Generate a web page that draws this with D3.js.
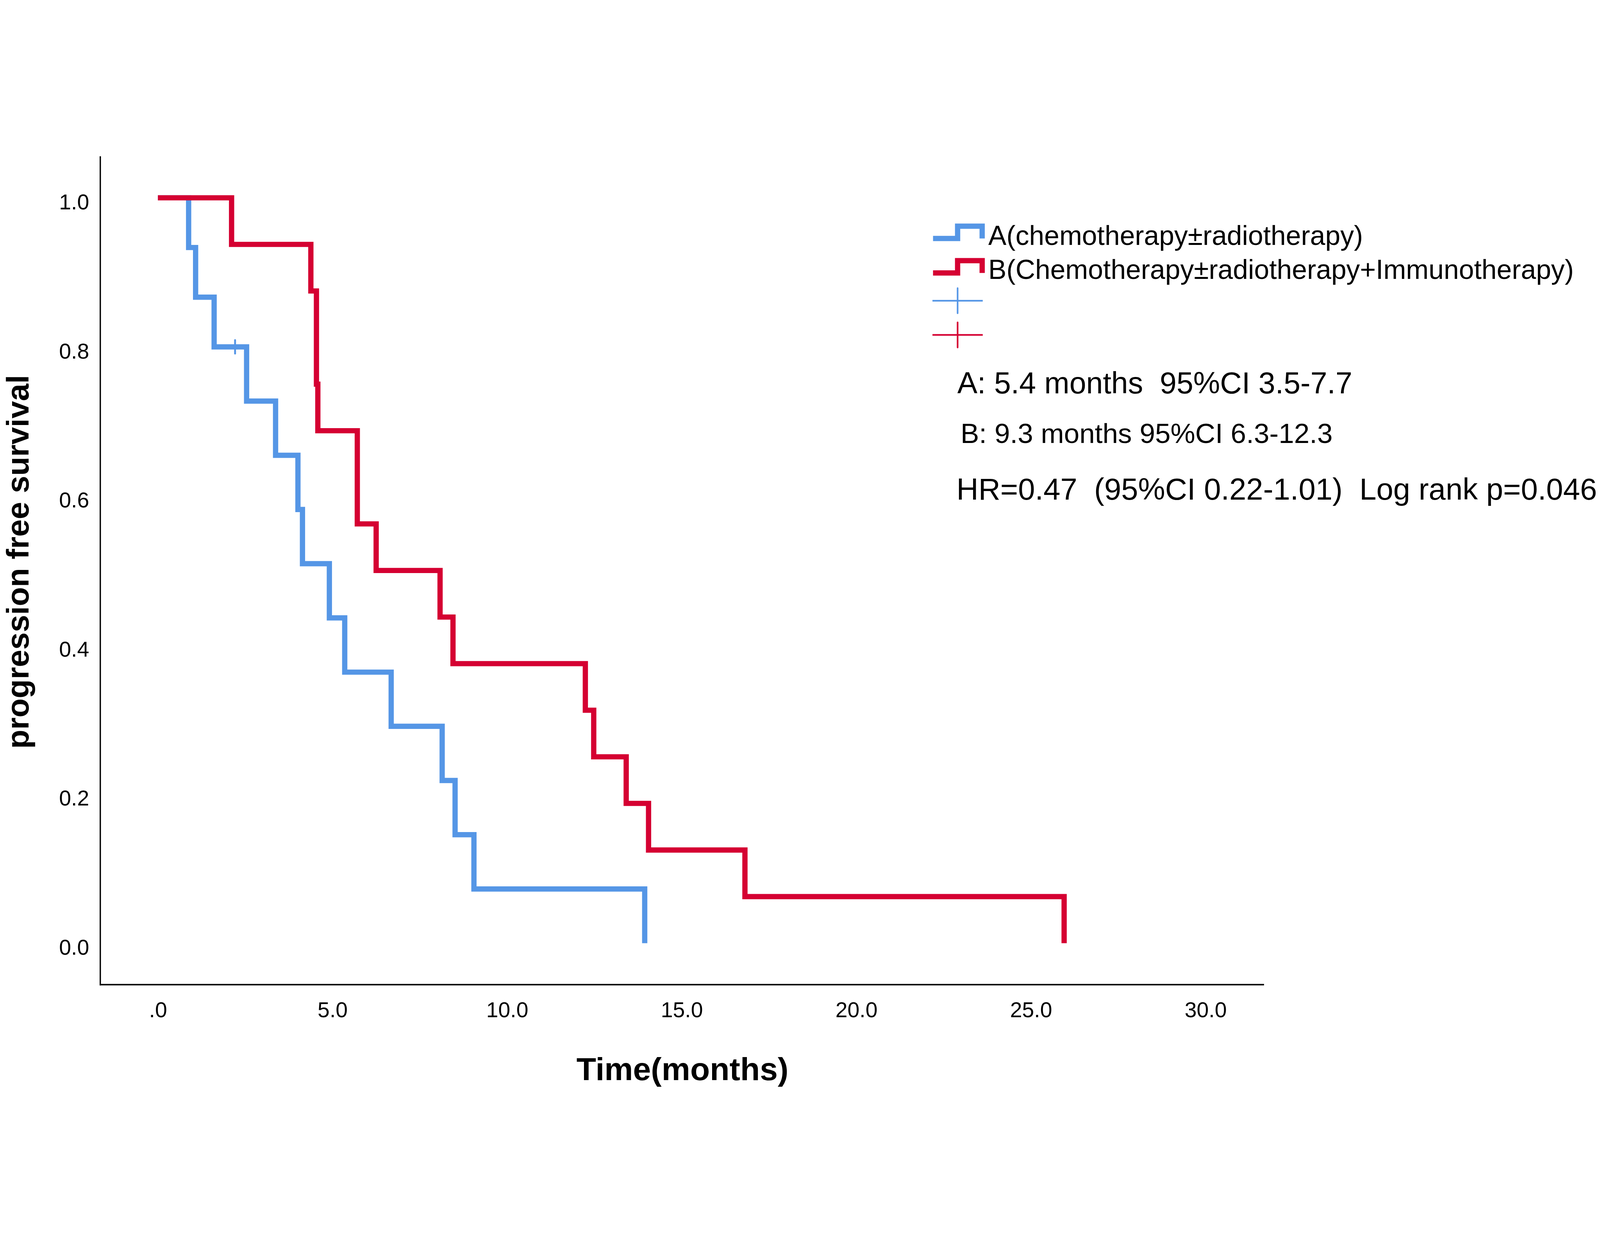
<!DOCTYPE html>
<html>
<head>
<meta charset="utf-8">
<script src="https://cdn.jsdelivr.net/npm/d3@7"></script>
<style>
  html, body { margin: 0; padding: 0; background: #fff; overflow: hidden; }
  svg { display: block; width: 100vw; height: 100vh; }
  text { font-family: "Liberation Sans", Arial, sans-serif; fill: #000; }
</style>
</head>
<body>
<svg id="chart" viewBox="0 0 5472 3182" preserveAspectRatio="xMidYMid meet"></svg>
<script>
// ---------------- data ----------------
const groupNames = ["A(chemotherapy\u00b1radiotherapy)", "B(Chemotherapy\u00b1radiotherapy+Immunotherapy)"];
const groupColors = ["#5596e6", "#d50032"];

// Group A: Kaplan-Meier step points (time in months, survival)
const timesA = [0, 0.88, 1.08, 1.61, 2.54, 3.37, 4.01, 4.14, 4.91, 5.35, 6.68, 8.14, 8.51, 9.05, 13.94];
const survA  = [1, 0.9333, 0.8667, 0.8, 0.7273, 0.6545, 0.5818, 0.5091, 0.4364, 0.3636, 0.2909, 0.2182, 0.1455, 0.0727, 0];
const censorTimesA = [2.21];
const censorSurvA  = [0.8];

// Group B
const timesB = [0, 2.11, 4.38, 4.54, 4.58, 5.71, 6.25, 8.08, 8.45, 12.24, 12.48, 13.41, 14.05, 16.81, 25.95];
const survB  = [1, 0.9375, 0.875, 0.75, 0.6875, 0.5625, 0.5, 0.4375, 0.375, 0.3125, 0.25, 0.1875, 0.125, 0.0625, 0];
const censorTimesB = [];
const censorSurvB  = [];

const xTicks = [0, 5, 10, 15, 20, 25, 30];
const xTickLabels = [".0", "5.0", "10.0", "15.0", "20.0", "25.0", "30.0"];
const yTicks = [0, 0.2, 0.4, 0.6, 0.8, 1.0];
const yTickLabels = ["0.0", "0.2", "0.4", "0.6", "0.8", "1.0"];

const xTitle = "Time(months)";
const yTitle = "progression free survival";
const statLines = [
  "A: 5.4 months  95%CI 3.5-7.7",
  "B: 9.3 months 95%CI 6.3-12.3",
  "HR=0.47  (95%CI 0.22-1.01)  Log rank p=0.046"
];

// ---------------- layout ----------------
const svg = d3.select("#chart");
const x = d3.scaleLinear().domain([0, 30]).range([540, 4123]);
const y = d3.scaleLinear().domain([0, 1]).range([2691, 142]);
const axisX = 343, axisY = 2833, axisRight = 4323;

// axis lines
svg.append("line").attr("x1", axisX).attr("x2", axisX).attr("y1", 0).attr("y2", axisY + 2.5)
  .attr("stroke", "#000").attr("stroke-width", 4.5);
svg.append("line").attr("x1", axisX - 2.25).attr("x2", axisRight).attr("y1", axisY).attr("y2", axisY)
  .attr("stroke", "#000").attr("stroke-width", 5);

// x axis labels
const gx = svg.append("g").attr("transform", `translate(0,${axisY})`)
  .call(d3.axisBottom(x).tickValues(xTicks).tickSize(0)
    .tickFormat((d, i) => xTickLabels[i]));
gx.select(".domain").remove();
gx.selectAll("text").attr("y", 111).attr("dy", null)
  .style("font-size", "74px").style("font-family", '"Liberation Sans", Arial, sans-serif').attr("fill", "#000");

// y axis labels
const gy = svg.append("g").attr("transform", `translate(${axisX},0)`)
  .call(d3.axisLeft(y).tickValues(yTicks).tickSize(0).tickPadding(38)
    .tickFormat((d, i) => yTickLabels[i]));
gy.select(".domain").remove();
gy.selectAll("text").attr("y", 39).attr("dy", null)
  .style("font-size", "74px").style("font-family", '"Liberation Sans", Arial, sans-serif').attr("fill", "#000");

// titles
svg.append("text").attr("x", 2334).attr("y", 3159).attr("text-anchor", "middle")
  .style("font-size", "110px").style("font-weight", "bold").text(xTitle);
svg.append("text").attr("transform", "translate(97,1387) rotate(-90)").attr("text-anchor", "middle")
  .style("font-size", "107px").style("font-weight", "bold").text(yTitle);

// curves
const line = d3.line().x(d => x(d[0])).y(d => y(d[1])).curve(d3.curveStepAfter);
const series = [
  { t: timesA, s: survA, ct: censorTimesA, cs: censorSurvA, color: groupColors[0] },
  { t: timesB, s: survB, ct: censorTimesB, cs: censorSurvB, color: groupColors[1] }
];
series.forEach(sr => {
  const pts = sr.t.map((t, i) => [t, sr.s[i]]);
  svg.append("path").datum(pts).attr("d", line)
    .attr("fill", "none").attr("stroke", sr.color).attr("stroke-width", 18)
    .attr("stroke-linejoin", "miter").attr("stroke-linecap", "butt");
});
series.forEach(sr => {
  sr.ct.forEach((t, i) => {
    const cx = x(t), cy = y(sr.cs[i]);
    svg.append("line").attr("x1", cx).attr("x2", cx).attr("y1", cy - 23).attr("y2", cy + 23)
      .attr("stroke", sr.color).attr("stroke-width", 6.5).attr("stroke-linecap", "round");
  });
});

// legend
const legX = 3191, legRow0 = 281, legStep = 118;
groupNames.forEach((name, i) => {
  const by = legRow0 + i * legStep;
  svg.append("path")
    .attr("d", `M${legX},${by} H${legX + 84} V${by - 42} H${legX + 168} V${by}`)
    .attr("fill", "none").attr("stroke", groupColors[i]).attr("stroke-width", 18)
    .attr("stroke-linejoin", "miter").attr("stroke-linecap", "butt");
  svg.append("text").attr("x", 3380).attr("y", 303 + i * 117)
    .style("font-size", "93px").text(name);
});
groupColors.forEach((c, i) => {
  const cy = 494 + i * 117, cx = 3275;
  svg.append("line").attr("x1", cx - 86).attr("x2", cx + 86).attr("y1", cy).attr("y2", cy)
    .attr("stroke", c).attr("stroke-width", 5.5);
  svg.append("line").attr("x1", cx).attr("x2", cx).attr("y1", cy - 43).attr("y2", cy + 43)
    .attr("stroke", c).attr("stroke-width", 5.5).attr("stroke-linecap", "round");
});

// statistics text
const statX = [3274, 3285, 3271];
const statY = [811, 981, 1174];
const statSize = [103, 95, 104];
statLines.forEach((s, i) => {
  svg.append("text").attr("x", statX[i]).attr("y", statY[i])
    .attr("xml:space", "preserve").style("white-space", "pre")
    .style("font-size", statSize[i] + "px").text(s);
});
</script>
</body>
</html>
